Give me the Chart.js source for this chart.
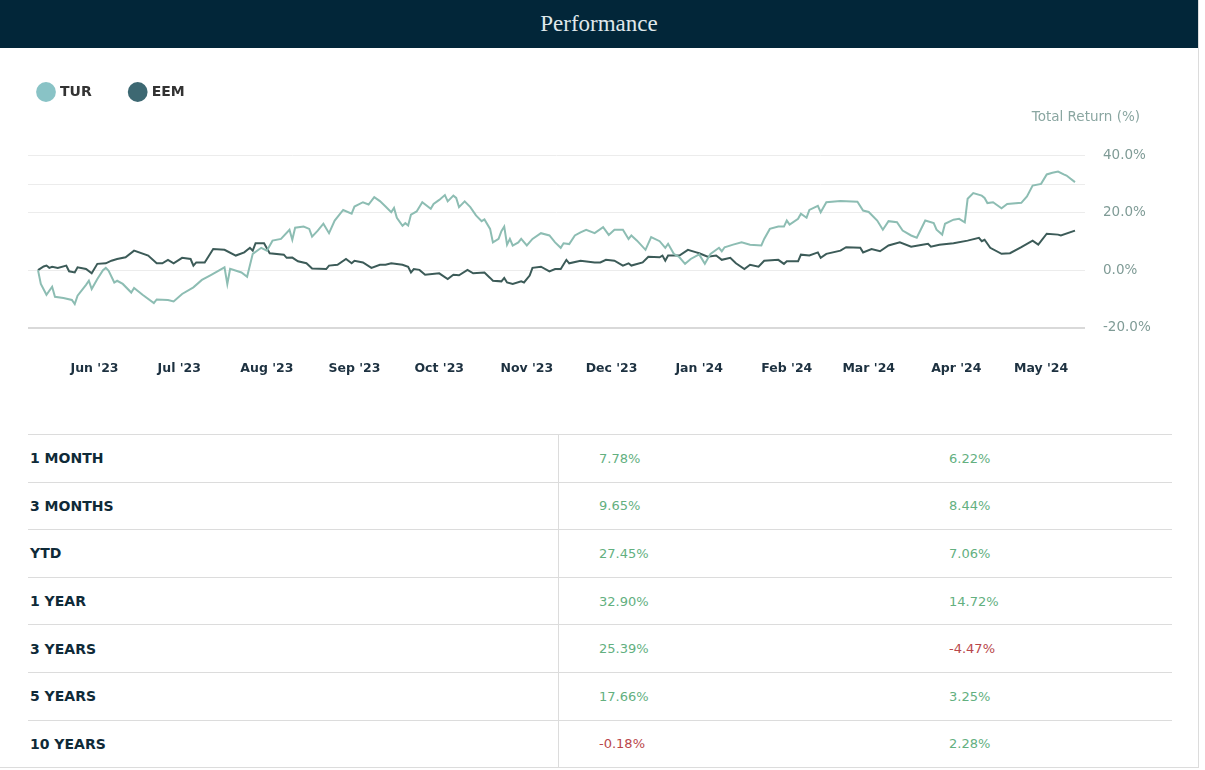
<!DOCTYPE html>
<html>
<head>
<meta charset="utf-8">
<title>Performance</title>
<script src="https://cdn.jsdelivr.net/npm/chart.js@4.4.1/dist/chart.umd.min.js"></script>
<style>
html,body{margin:0;padding:0;background:#fff;}
#wrap{position:relative;width:1198px;height:767px;border-right:1px solid #dcdcdc;border-bottom:1px solid #dcdcdc;}
#hdr{position:absolute;left:0;top:0;width:1198px;height:48px;background:#022639;color:#dfe7eb;font-family:'Liberation Serif',serif;font-size:23px;line-height:48px;text-align:center;z-index:2;}
#chartBox{position:absolute;left:0;top:0;width:1198px;height:400px;z-index:1;}
#tbl{position:absolute;left:28px;top:434px;width:1144px;font-family:'DejaVu Sans',sans-serif;}
.row{display:flex;height:47.6px;border-top:1px solid #dcdcdc;box-sizing:border-box;}
.c1,.c2,.c3{display:flex;align-items:center;box-sizing:border-box;height:100%;}
.c1{width:531px;border-right:1px solid #dcdcdc;padding-left:2px;font-weight:bold;font-size:14px;color:#0f2a38;}
.c2{width:350px;padding-left:40px;font-size:13px;}
.c3{flex:1;padding-left:40px;font-size:13px;}
</style>
</head>
<body>
<div id="wrap">
  <div id="hdr">Performance</div>
  <div id="chartBox"><canvas id="c"></canvas></div>
  <div id="tbl"></div>
</div>
<script>
// ---- data ----
const startDate = '2023-05-12';

const turDates = ['2023-05-12','2023-05-13','2023-05-15','2023-05-17','2023-05-18','2023-05-21','2023-05-24','2023-05-25','2023-05-26','2023-05-29','2023-05-30','2023-05-31',
'2023-06-02','2023-06-04','2023-06-05','2023-06-06','2023-06-08','2023-06-09','2023-06-11','2023-06-14','2023-06-15','2023-06-18','2023-06-22','2023-06-23','2023-06-27','2023-06-29',
'2023-07-02','2023-07-06','2023-07-09','2023-07-12','2023-07-17','2023-07-18','2023-07-19','2023-07-23','2023-07-25','2023-07-27','2023-07-30',
'2023-08-01','2023-08-03','2023-08-06','2023-08-09','2023-08-10','2023-08-11','2023-08-14','2023-08-16','2023-08-17','2023-08-19','2023-08-21','2023-08-23','2023-08-25','2023-08-28','2023-08-31',
'2023-09-01','2023-09-04','2023-09-06','2023-09-08','2023-09-10','2023-09-12','2023-09-14','2023-09-15','2023-09-16','2023-09-18','2023-09-19','2023-09-20','2023-09-21','2023-09-23','2023-09-25','2023-09-28','2023-09-29',
'2023-10-01','2023-10-03','2023-10-04','2023-10-06','2023-10-07','2023-10-08','2023-10-10','2023-10-12','2023-10-14','2023-10-16','2023-10-17','2023-10-19','2023-10-20','2023-10-22','2023-10-23','2023-10-24','2023-10-25','2023-10-26','2023-10-27','2023-10-29','2023-10-30',
'2023-11-01','2023-11-03','2023-11-06','2023-11-09','2023-11-11','2023-11-13','2023-11-14','2023-11-16','2023-11-18','2023-11-20','2023-11-22','2023-11-25','2023-11-28','2023-11-30',
'2023-12-02','2023-12-05','2023-12-07','2023-12-08','2023-12-10','2023-12-13','2023-12-15','2023-12-18','2023-12-20','2023-12-21','2023-12-23','2023-12-25','2023-12-27','2023-12-29',
'2024-01-01','2024-01-03','2024-01-05','2024-01-08','2024-01-09','2024-01-10','2024-01-13','2024-01-16','2024-01-19','2024-01-23','2024-01-24','2024-01-26','2024-01-29','2024-01-31',
'2024-02-01','2024-02-02','2024-02-05','2024-02-06','2024-02-08','2024-02-09','2024-02-12','2024-02-13','2024-02-15','2024-02-20','2024-02-26','2024-02-28',
'2024-03-01','2024-03-04','2024-03-06','2024-03-08','2024-03-11','2024-03-13','2024-03-16','2024-03-18','2024-03-21','2024-03-24','2024-03-25','2024-03-27','2024-03-28','2024-03-31',
'2024-04-02','2024-04-04','2024-04-05','2024-04-07','2024-04-10','2024-04-11','2024-04-12','2024-04-14','2024-04-17','2024-04-19','2024-04-24','2024-04-26','2024-04-28',
'2024-05-01','2024-05-03','2024-05-05','2024-05-07','2024-05-09','2024-05-10','2024-05-13'];
const turValues = [0,-4.8,-8.6,-5.8,-9.3,-9.7,-10.4,-11.8,-8.9,-5.1,-3.7,-6.6,
-3.1,0.0,0.8,-0.2,-4.3,-3.7,-4.8,-7.8,-6.2,-8.6,-11.5,-10.2,-10.4,-10.9,
-8.3,-6.0,-3.4,-1.8,1.0,-4.8,0.5,-0.8,-2.3,5.7,7.8,
6.8,10.3,10.9,14.1,10.6,14.8,15.2,14.4,11.7,13.8,16.2,12.9,17.3,21.0,19.7,
22.2,23.7,22.9,25.5,24.1,22.2,20.2,21.7,18.3,15.5,16.4,15.6,19.4,20.5,23.7,21.4,23.1,
24.5,26.2,24.0,26.0,25.2,22.0,24.0,22.0,19.1,17.1,17.7,14.4,9.7,10.9,13.6,15.2,8.9,10.9,8.6,9.7,10.9,
8.6,10.9,12.9,12.1,9.7,7.8,9.4,9.1,12.1,13.2,14.1,12.9,15.0,12.3,
14.1,14.1,10.9,12.1,10.3,7.1,11.5,10.1,7.8,9.2,5.7,4.5,2.2,3.9,
5.5,2.2,5.7,7.8,6.6,8.0,8.9,9.7,8.9,8.6,10.9,14.4,15.2,15.2,
17.3,15.9,17.9,19.7,18.3,21.0,22.4,20.2,23.7,24.1,23.9,20.8,
20.3,17.3,14.1,17.1,16.7,13.8,12.1,11.3,17.3,16.4,14.1,12.4,16.2,17.6,
17.9,16.7,24.9,26.9,26.0,25.2,23.4,23.7,21.6,23.1,23.5,25.7,29.5,
30.1,33.4,34.0,34.4,33.4,33.0,30.7];

const eemDates = ['2023-05-12','2023-05-14','2023-05-15','2023-05-16','2023-05-17','2023-05-19','2023-05-22','2023-05-23','2023-05-25','2023-05-26','2023-05-29','2023-05-31',
'2023-06-02','2023-06-05','2023-06-07','2023-06-09','2023-06-12','2023-06-15','2023-06-20','2023-06-23','2023-06-25','2023-06-27','2023-06-29',
'2023-07-02','2023-07-05','2023-07-06','2023-07-07','2023-07-10','2023-07-13','2023-07-17','2023-07-21','2023-07-24','2023-07-26','2023-07-27','2023-07-28','2023-07-31',
'2023-08-02','2023-08-07','2023-08-08','2023-08-10','2023-08-12','2023-08-15','2023-08-17','2023-08-22','2023-08-23','2023-08-26','2023-08-29','2023-08-31',
'2023-09-01','2023-09-04','2023-09-07','2023-09-10','2023-09-12','2023-09-14','2023-09-18','2023-09-20','2023-09-21','2023-09-22','2023-09-24','2023-09-26',
'2023-10-01','2023-10-04','2023-10-06','2023-10-08','2023-10-11','2023-10-13','2023-10-17','2023-10-19','2023-10-20','2023-10-23','2023-10-24','2023-10-25','2023-10-27','2023-10-30','2023-10-31',
'2023-11-02','2023-11-03','2023-11-06','2023-11-09','2023-11-11','2023-11-13','2023-11-15','2023-11-16','2023-11-20','2023-11-25','2023-11-27','2023-11-29',
'2023-12-02','2023-12-05','2023-12-07','2023-12-08','2023-12-12','2023-12-14','2023-12-18','2023-12-19','2023-12-20','2023-12-21','2023-12-25','2023-12-28','2023-12-31',
'2024-01-01','2024-01-04','2024-01-07','2024-01-09','2024-01-12','2024-01-14','2024-01-17','2024-01-19','2024-01-22','2024-01-24','2024-01-29','2024-01-31',
'2024-02-01','2024-02-05','2024-02-06','2024-02-09','2024-02-12','2024-02-13','2024-02-15','2024-02-20','2024-02-22','2024-02-27','2024-02-28',
'2024-03-02','2024-03-05','2024-03-08','2024-03-12','2024-03-16','2024-03-20','2024-03-22','2024-03-23','2024-03-26','2024-03-31',
'2024-04-05','2024-04-09','2024-04-10','2024-04-11','2024-04-13','2024-04-17','2024-04-20','2024-04-24','2024-04-28','2024-04-30',
'2024-05-03','2024-05-07','2024-05-08','2024-05-13'];
const eemValues = [0,1.3,1.6,0.8,1.2,0.8,1.6,-0.4,-0.8,1.0,0.4,-1.1,
2.2,2.4,3.3,3.9,4.5,6.8,5.1,2.4,2.4,3.6,2.4,
4.3,3.9,1.6,2.7,2.7,7.4,7.1,5.1,6.2,7.8,6.8,9.4,9.4,
5.9,5.4,4.3,4.4,3.1,2.4,0.6,0.4,1.6,1.9,3.9,2.4,
3.3,2.7,0.8,1.9,1.9,2.4,1.9,1.2,-0.8,0.4,0.1,-1.6,
-1.1,-3.1,-1.6,-1.8,0.1,-1.1,-0.8,-2.7,-3.7,-3.9,-2.7,-4.3,-4.8,-3.9,-4.3,
-1.9,0.8,1.2,-0.4,0.4,0.4,3.6,2.4,3.3,2.7,2.7,3.6,
3.3,1.6,2.4,1.6,2.7,4.7,4.5,5.1,3.3,5.1,5.1,7.1,6.2,
5.9,4.7,5.1,3.6,4.3,2.4,0.4,1.9,1.2,3.3,3.6,2.2,
3.1,3.1,5.4,5.1,6.2,4.3,5.7,6.8,8.0,7.8,6.2,
7.4,6.6,8.6,9.7,8.2,8.9,9.2,8.2,8.9,9.4,
10.3,11.3,10.1,10.6,7.8,5.7,5.9,8.0,10.3,8.9,
12.7,12.4,12.1,13.8];

const monthTicks = ['2023-06-01','2023-07-01','2023-08-01','2023-09-01','2023-10-01','2023-11-01','2023-12-01','2024-01-01','2024-02-01','2024-03-01','2024-04-01','2024-05-01'];
const monthLabels = ["Jun '23","Jul '23","Aug '23","Sep '23","Oct '23","Nov '23","Dec '23","Jan '24","Feb '24","Mar '24","Apr '24","May '24"];

const yGridTicks = [-20, 0, 20, 30, 40];
const yLabelTicks = [-20, 0, 20, 40];
const yAxisTitle = 'Total Return (%)';

const periods = ['1 MONTH','3 MONTHS','YTD','1 YEAR','3 YEARS','5 YEARS','10 YEARS'];
const turReturns = [7.78, 9.65, 27.45, 32.90, 25.39, 17.66, -0.18];
const eemReturns = [6.22, 8.44, 7.06, 14.72, -4.47, 3.25, 2.28];

// ---- styles ----
const TUR_LINE = '#8dbdb3', TUR_DOT = '#89c3c6';
const EEM_LINE = '#3c5b58', EEM_DOT = '#3d6872';
const POS = '#63b07f', NEG = '#b9474b';

// ---- table ----
const tbl = document.getElementById('tbl');
const fmt = v => v.toFixed(2) + '%';
periods.forEach((p, i) => {
  const r = document.createElement('div'); r.className = 'row';
  const a = document.createElement('div'); a.className = 'c1'; a.textContent = p;
  const b = document.createElement('div'); b.className = 'c2'; b.textContent = fmt(turReturns[i]); b.style.color = turReturns[i] < 0 ? NEG : POS;
  const c = document.createElement('div'); c.className = 'c3'; c.textContent = fmt(eemReturns[i]); c.style.color = eemReturns[i] < 0 ? NEG : POS;
  r.append(a, b, c); tbl.appendChild(r);
});

// ---- chart ----
const t0 = Date.parse(startDate);
const dayOf = s => (Date.parse(s) - t0) / 864e5;
const lastDay = dayOf(turDates[turDates.length - 1]);
const xPad = 3.54;

Chart.defaults.font.family = "'DejaVu Sans', sans-serif";

const axisTitlePlugin = {
  id: 'axisTitle',
  afterDraw(chart) {
    const { ctx, chartArea } = chart;
    ctx.save();
    ctx.font = "13.5px 'DejaVu Sans', sans-serif";
    ctx.fillStyle = '#8aa6a1';
    ctx.textAlign = 'right';
    ctx.textBaseline = 'middle';
    ctx.fillText(yAxisTitle, chartArea.right + 55, chartArea.top - 38);
    ctx.restore();
  }
};

new Chart(document.getElementById('c'), {
  type: 'line',
  data: {
    datasets: [
      { label: 'TUR', data: turDates.map((d, i) => ({ x: dayOf(d), y: turValues[i] })),
        borderColor: TUR_LINE, backgroundColor: TUR_DOT, borderWidth: 2, pointRadius: 0, tension: 0 },
      { label: 'EEM', data: eemDates.map((d, i) => ({ x: dayOf(d), y: eemValues[i] })),
        borderColor: EEM_LINE, backgroundColor: EEM_DOT, borderWidth: 2, pointRadius: 0, tension: 0 }
    ]
  },
  plugins: [axisTitlePlugin],
  options: {
    responsive: true, maintainAspectRatio: false, animation: false,
    layout: { padding: { left: 0, right: 0, top: 46, bottom: 24.5 } },
    plugins: {
      legend: {
        position: 'top', align: 'start', weight: 3000,
        labels: {
          usePointStyle: true, pointStyle: 'circle', boxWidth: 14, boxHeight: 14, padding: 39,
          color: '#333', font: { size: 14, weight: 'bold' },
          generateLabels: chart => chart.data.datasets.map((ds, i) => ({
            text: ds.label, fillStyle: ds.backgroundColor, strokeStyle: ds.backgroundColor,
            lineWidth: 0, pointStyle: 'circle', datasetIndex: i, hidden: false, fontColor: '#333'
          }))
        }
      },
      tooltip: { enabled: false }
    },
    scales: {
      x: {
        type: 'linear', min: -xPad, max: lastDay + xPad,
        grid: { display: false, drawTicks: false }, border: { display: false },
        afterBuildTicks: s => { s.ticks = monthTicks.map(d => ({ value: dayOf(d) })); },
        afterFit: s => { s.height = 48; },
        ticks: { autoSkip: false, maxRotation: 0, padding: 34, color: '#1d3140',
          font: { size: 12.5, weight: 'bold' }, callback: (v, i) => monthLabels[i] }
      },
      xPad: {
        type: 'linear', position: 'top', display: true,
        grid: { display: false, drawTicks: false }, border: { display: false }, ticks: { display: false },
        afterFit: s => { s.height = 46.5; }
      },
      y: {
        position: 'right', min: -20, max: 40,
        afterBuildTicks: s => { s.ticks = yGridTicks.map(v => ({ value: v })); },
        afterFit: s => { s.width = 113; },
        grid: { drawTicks: false,
          color: c => (c.tick && c.tick.value === -20) ? '#d9d9d9' : '#ececec',
          lineWidth: c => (c.tick && c.tick.value === -20) ? 2 : 1 },
        border: { display: false },
        ticks: { padding: 18, color: '#7f9b96', font: { size: 13.5 },
          callback: v => yLabelTicks.includes(v) ? v.toFixed(1) + '%' : '' }
      },
      yPad: {
        type: 'linear', position: 'left', display: true,
        grid: { display: false, drawTicks: false }, border: { display: false }, ticks: { display: false },
        afterFit: s => { s.width = 28; }
      }
    }
  }
});
</script>
</body>
</html>
